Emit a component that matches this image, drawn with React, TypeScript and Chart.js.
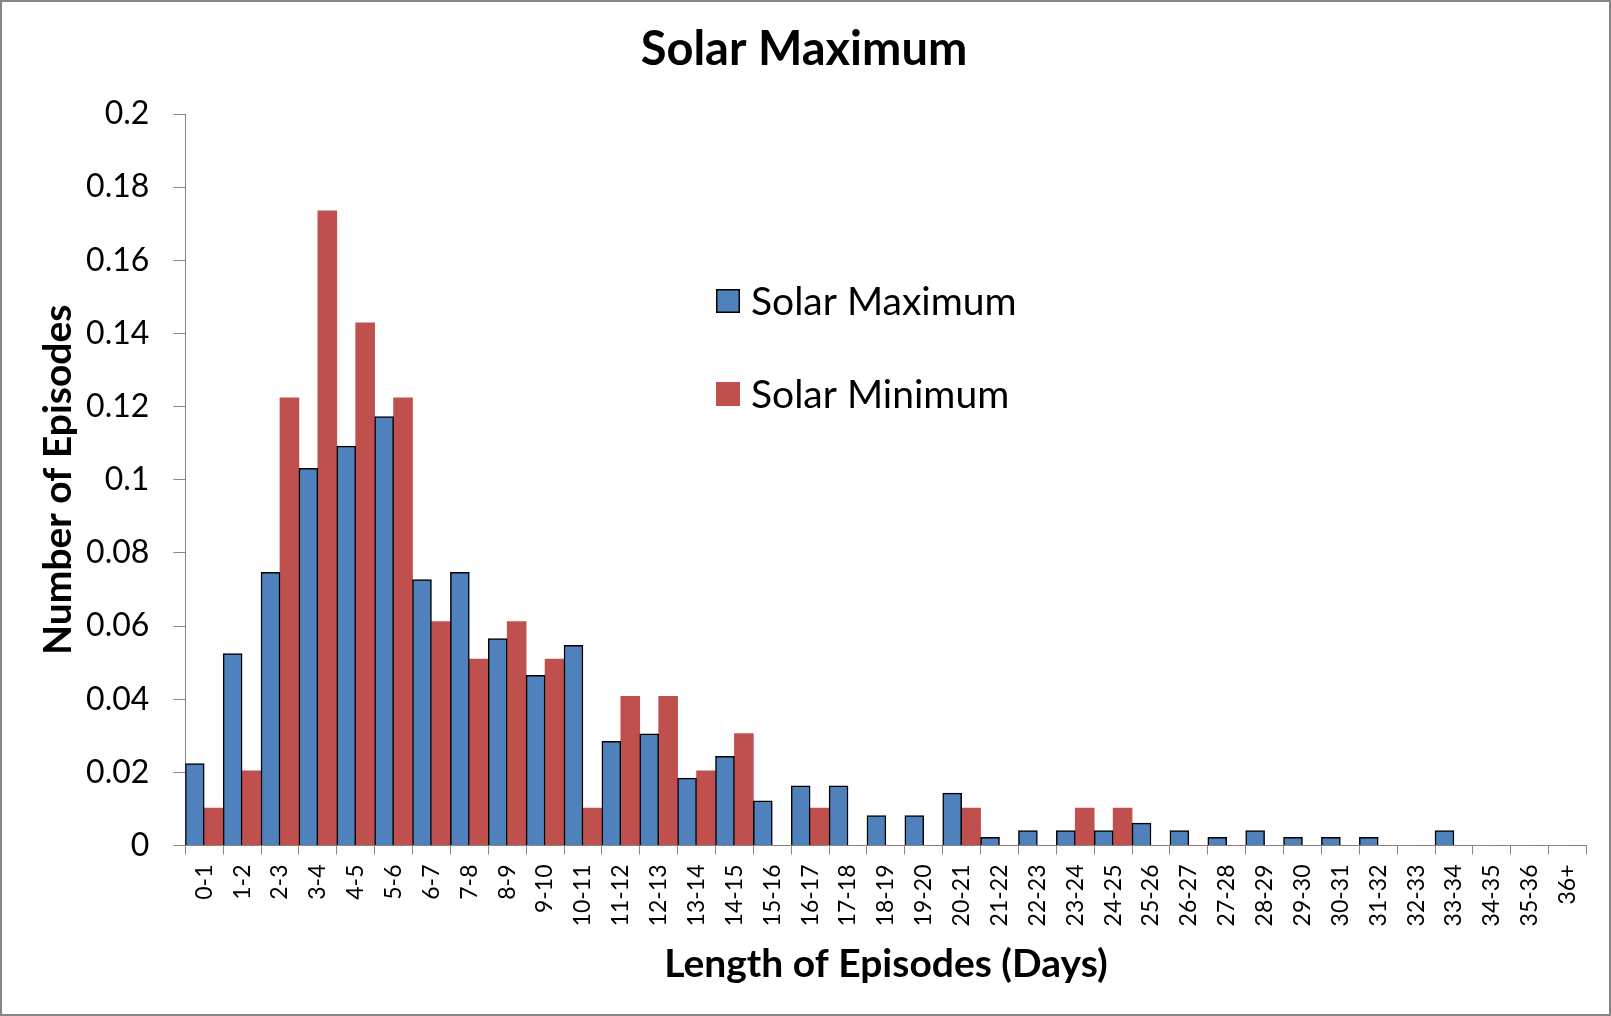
import { useEffect, useRef } from "react"
import { Chart, registerables } from "chart.js"

Chart.register(...registerables)

const categories = [
  "0-1", "1-2", "2-3", "3-4", "4-5", "5-6", "6-7", "7-8", "8-9", "9-10",
  "10-11", "11-12", "12-13", "13-14", "14-15", "15-16", "16-17", "17-18", "18-19", "19-20",
  "20-21", "21-22", "22-23", "23-24", "24-25", "25-26", "26-27", "27-28", "28-29", "29-30",
  "30-31", "31-32", "32-33", "33-34", "34-35", "35-36", "36+",
]

const solarMaximum = [
  0.0224, 0.0525, 0.0747, 0.1031, 0.1092, 0.1173, 0.0727, 0.0747, 0.0566, 0.0465,
  0.0547, 0.0285, 0.0305, 0.0184, 0.0244, 0.0122, 0.0163, 0.0163, 0.0082, 0.0082,
  0.0143, 0.0022, 0.0041, 0.0041, 0.0041, 0.0061, 0.0041, 0.0022, 0.0041, 0.0022,
  0.0022, 0.0022, 0, 0.0041, 0, 0, 0,
]

const solarMinimum = [
  0.0102, 0.0204, 0.1224, 0.1735, 0.1429, 0.1224, 0.0612, 0.051, 0.0612, 0.051,
  0.0102, 0.0408, 0.0408, 0.0204, 0.0306, 0, 0.0102, 0, 0, 0,
  0.0102, 0, 0, 0.0102, 0.0102, 0, 0, 0, 0, 0,
  0, 0, 0, 0, 0, 0, 0,
]

const seriesNames = ["Solar Maximum", "Solar Minimum"]
const yMin = 0
const yMax = 0.2
const yStep = 0.02

const FONT = "Lato, 'Open Sans', sans-serif"
const AXIS_GRAY = "#868686"

// outer frame round the whole picture
const framePlugin = {
  id: "frame",
  afterDraw(chart: Chart) {
    const { ctx, width, height } = chart
    ctx.save()
    ctx.strokeStyle = AXIS_GRAY
    ctx.lineWidth = 2
    ctx.strokeRect(1, 1, width - 2, height - 2)
    ctx.restore()
  },
}

// legend sitting inside the plot, stacked with wide spacing
const insideLegend = {
  id: "insideLegend",
  afterDraw(chart: Chart) {
    const { ctx } = chart
    ctx.save()
    ctx.font = `39px ${FONT}`
    ctx.textBaseline = "middle"
    chart.data.datasets.forEach((ds: any, i: number) => {
      const x = 716
      const cy = 301 + i * 93
      ctx.fillStyle = ds.backgroundColor
      ctx.fillRect(x, cy - 12, 24, 24)
      if (ds.borderWidth) {
        ctx.strokeStyle = "#000"
        ctx.lineWidth = 1.5
        ctx.strokeRect(x + 0.75, cy - 11.25, 22.5, 22.5)
      }
      ctx.fillStyle = "#000"
      ctx.fillText(ds.label, 751, cy + 1)
    })
    ctx.restore()
  },
}

export default function App() {
  const chartRef = useRef<HTMLCanvasElement>(null)
  const chartInstance = useRef<Chart | null>(null)

  useEffect(() => {
    if (!chartRef.current) return
    if (chartInstance.current) chartInstance.current.destroy()

    const ctx = chartRef.current.getContext("2d")
    if (!ctx) return

    chartInstance.current = new Chart(ctx, {
      type: "bar",
      data: {
        labels: categories,
        datasets: [
          {
            label: seriesNames[0],
            data: solarMaximum,
            backgroundColor: "#4F81BD",
            borderColor: "#000000",
            borderWidth: 1.5,
            categoryPercentage: 1,
            barPercentage: 1,
          },
          {
            label: seriesNames[1],
            data: solarMinimum,
            backgroundColor: "#C0504D",
            borderWidth: 0,
            categoryPercentage: 1,
            barPercentage: 1,
          },
        ],
      },
      options: {
        responsive: false,
        animation: false,
        layout: { padding: { left: 21.5, right: 24.5, top: 0, bottom: 0 } },
        plugins: {
          legend: { display: false },
          tooltip: { enabled: false },
          title: {
            display: true,
            text: "Solar Maximum",
            color: "#000",
            font: { family: FONT, size: 47, weight: "bold", lineHeight: 1.2 },
            padding: { top: 21.8, bottom: 35.8 },
          },
        },
        scales: {
          x: {
            grid: {
              display: true,
              drawOnChartArea: false,
              drawTicks: true,
              tickLength: 9,
              color: AXIS_GRAY,
              offset: true,
            },
            border: { display: true, color: AXIS_GRAY, width: 1 },
            ticks: {
              autoSkip: false,
              minRotation: 90,
              maxRotation: 90,
              padding: 10,
              color: "#000",
              font: { family: FONT, size: 23 },
            },
            title: {
              display: true,
              text: "Length of Episodes (Days)",
              color: "#000",
              font: { family: FONT, size: 39, weight: "bold", lineHeight: 1.2 },
              padding: { top: 0, bottom: 28.6 },
            },
            afterFit(scale: any) {
              scale.height = 170.5
            },
          },
          y: {
            min: yMin,
            max: yMax,
            grid: {
              display: true,
              drawOnChartArea: false,
              drawTicks: true,
              tickLength: 12,
              color: AXIS_GRAY,
            },
            border: { display: true, color: AXIS_GRAY, width: 1 },
            ticks: {
              stepSize: yStep,
              padding: 24,
              color: "#000",
              font: { family: FONT, size: 32 },
              callback: (v: any) => String(Number(Number(v).toFixed(2))),
            },
            title: {
              display: true,
              text: "Number of Episodes",
              color: "#000",
              font: { family: FONT, size: 39, weight: "bold", lineHeight: 1.2 },
              padding: { top: 13.1, bottom: 0 },
            },
            afterFit(scale: any) {
              scale.width = 163.8
            },
          },
        },
      },
      plugins: [framePlugin, insideLegend],
    })

    return () => {
      if (chartInstance.current) {
        chartInstance.current.destroy()
        chartInstance.current = null
      }
    }
  }, [])

  return (
    <div style={{ position: "fixed", left: 0, top: 0, width: 1611, height: 1016, background: "#fff" }}>
      <canvas ref={chartRef} width={1611} height={1016} />
    </div>
  )
}
